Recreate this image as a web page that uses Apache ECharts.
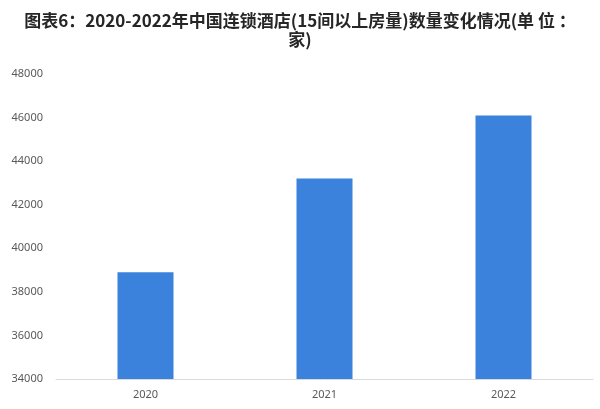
<!DOCTYPE html>
<html>
<head>
<meta charset="utf-8">
<script src="https://cdn.jsdelivr.net/npm/echarts@6/dist/echarts.min.js"></script>
<style>
html, body { margin: 0; padding: 0; background: #fff; }
#main { width: 600px; height: 409px; }
</style>
</head>
<body>
<div id="main"></div>
<script>
// 数据
var years = ['2020', '2021', '2022'];
var hotelCounts = [38900, 43200, 46100];
var yTicks = [34000, 48000, 2000]; // min, max, interval

var myChart = echarts.init(document.getElementById('main'));

var option = {
    backgroundColor: '#fff',
    title: {
        text: '图表6：2020-2022年中国连锁酒店(15间以上房量)数量变化情况(单 位 ：\n家)',
        left: 'center',
        top: 6,
        textStyle: {
            fontFamily: 'Noto Sans CJK SC',
            fontSize: 17,
            fontWeight: 'bold',
            color: '#262626',
            lineHeight: 19
        }
    },
    grid: {
        left: 56,
        right: 7,
        top: 74,
        bottom: 30
    },
    xAxis: {
        type: 'category',
        data: years,
        axisLine: { lineStyle: { color: '#d9d9d9' } },
        axisTick: { show: false },
        axisLabel: {
            color: '#595959',
            fontSize: 11,
            margin: 10,
            fontFamily: 'Noto Sans'
        }
    },
    yAxis: {
        type: 'value',
        min: yTicks[0],
        max: yTicks[1],
        interval: yTicks[2],
        splitLine: { show: false },
        axisLine: { show: false },
        axisTick: { show: false },
        axisLabel: {
            color: '#595959',
            fontSize: 11,
            margin: 13,
            fontFamily: 'Noto Sans',
            formatter: function (v) { return String(v); }
        }
    },
    series: [
        {
            type: 'bar',
            data: hotelCounts,
            barWidth: 56,
            itemStyle: { color: '#3b82dd' }
        }
    ]
};

myChart.setOption(option);
</script>
</body>
</html>
